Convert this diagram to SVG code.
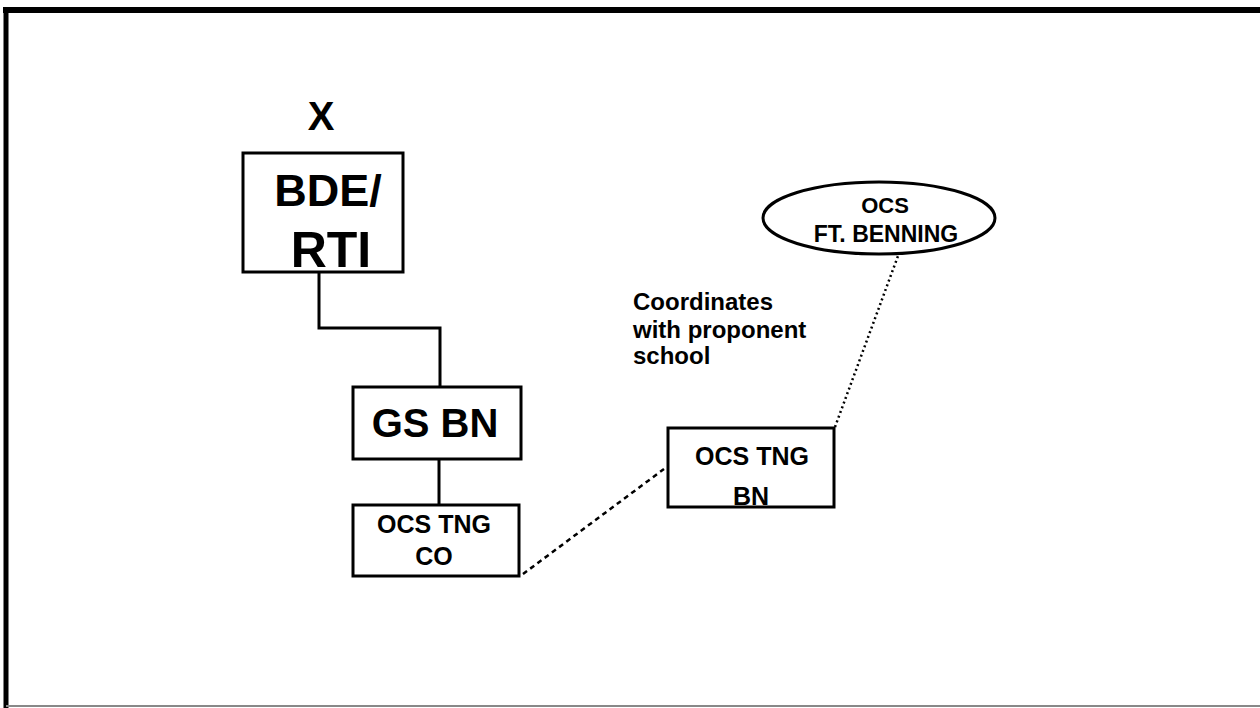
<svg xmlns="http://www.w3.org/2000/svg" width="1260" height="708" viewBox="0 0 1260 708">
<style>
.box{fill:#fff;stroke:#000;stroke-width:3}
.t{font-family:"Liberation Sans",Arial,sans-serif;font-weight:bold;fill:#000;text-anchor:middle}
.n{font-family:"Liberation Sans",Arial,sans-serif;font-weight:bold;fill:#000;font-size:24px}
.ln{stroke:#000;stroke-width:3;fill:none}
</style>
<rect width="1260" height="708" fill="#fff"/>
<g id="frame">
<line x1="3" y1="10" x2="1260" y2="10" stroke="#000" stroke-width="6"/>
<line x1="6" y1="7" x2="6" y2="708" stroke="#000" stroke-width="5"/>
<line x1="6" y1="706" x2="1260" y2="706" stroke="#888" stroke-width="2"/>
</g>
<g id="connectors">
<polyline class="ln" points="319,273 319,328 440,328 440,387"/>
<line class="ln" x1="439" y1="460" x2="439" y2="505"/>
<line x1="523" y1="574" x2="664" y2="469" stroke="#000" stroke-width="2.5" stroke-dasharray="5,4"/>
<line x1="835" y1="427" x2="898" y2="256" stroke="#000" stroke-width="2.5" stroke-dasharray="2,3"/>
</g>
<g id="x-label"><text class="t" x="321" y="130" font-size="40">X</text></g>
<g id="bde">
<rect class="box" x="243" y="153" width="160" height="119"/>
<text class="t" x="328" y="206" font-size="45">BDE/</text>
<text class="t" x="331" y="267" font-size="50">RTI</text>
</g>
<g id="gsbn">
<rect class="box" x="353" y="387" width="168" height="72"/>
<text class="t" x="435" y="437" font-size="40">GS BN</text>
</g>
<g id="co">
<rect class="box" x="353" y="505" width="166" height="71"/>
<text class="t" x="434" y="533" font-size="25">OCS TNG</text>
<text class="t" x="434" y="565" font-size="25">CO</text>
</g>
<g id="bn">
<rect class="box" x="668" y="428" width="166" height="79"/>
<text class="t" x="752" y="465" font-size="25">OCS TNG</text>
<text class="t" x="751" y="505" font-size="25">BN</text>
</g>
<g id="benning">
<ellipse class="box" cx="879" cy="218" rx="116" ry="36"/>
<text class="t" x="885" y="213" font-size="22">OCS</text>
<text class="t" x="886" y="242" font-size="23">FT. BENNING</text>
</g>
<g id="note">
<text class="n" x="633" y="310">Coordinates</text>
<text class="n" x="633" y="338">with proponent</text>
<text class="n" x="633" y="364">school</text>
</g>
</svg>
